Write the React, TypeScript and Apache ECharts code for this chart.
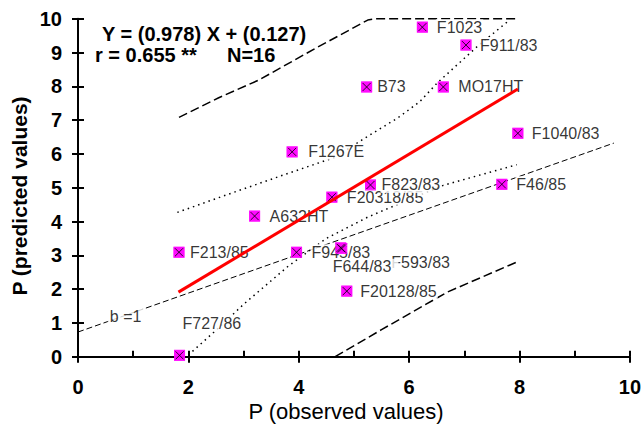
import React, { useEffect, useRef } from "react";
import * as echarts from "echarts";

// ---- data ----
const pointNames = [
  "F1023", "F911/83", "B73", "MO17HT", "F1267E", "F1040/83", "F20318/85", "F823/83",
  "A632HT", "F46/85", "F213/85", "F945/83", "F593/83", "F644/83", "F20128/85", "F727/86",
];
const observedValues = [6.24, 7.03, 5.23, 6.62, 3.88, 7.97, 4.6, 5.3, 3.2, 7.68, 1.83, 3.96, 4.78, 4.76, 4.87, 1.84];
const predictedValues = [9.75, 9.22, 7.98, 7.98, 6.06, 6.61, 4.72, 5.08, 4.16, 5.1, 3.09, 3.09, 3.2, 3.22, 1.94, 0.04];

// regression line Y = 0.978 X + 0.127 (end points)
const regressionLine = [[1.82, 1.91], [7.97, 7.92]];
// prediction band (long dashes)
const upperPrediction = [[1.83, 7.08], [2.55, 7.66], [3.27, 8.18], [4.3, 9.12], [5.25, 9.96], [5.4, 10], [7.95, 10]];
const lowerPrediction = [[4.66, 0], [5.5, 0.8], [6.69, 1.91], [7.95, 2.8]];
// confidence band (dotted)
const upperConfidence = [[1.8, 4.27], [2.8, 4.85], [3.8, 5.42], [4.66, 5.9], [5.2, 6.47], [5.79, 7.06], [6.19, 7.54], [6.51, 8.1], [7.23, 9.17], [7.82, 9.96]];
const lowerConfidence = [[2.0, 0.05], [2.5, 0.78], [3.0, 1.55], [3.81, 2.68], [4.5, 3.5], [5.25, 4.13], [6.0, 4.65], [6.62, 5.07], [7.95, 5.68]];
// b = 1 line
const bOneLine = [[0, 0.73], [9.71, 6.32]];
const bOneLabelPoint = [0.54, 1.2];

const xTicks = [0, 2, 4, 6, 8, 10];
const yTicks = [0, 1, 2, 3, 4, 5, 6, 7, 8, 9, 10];

const titleLine1 = "Y = (0.978) X + (0.127)";
const titleLine2a = "r = 0.655 **";
const titleLine2b = "N=16";
const xName = "P (observed values)";
const yName = "P (predicted values)";

// label placement (style): text-left offset from marker centre, vertical offset, right padding
const labelDx = [14.5, 14, 10.5, 15, 16, 14, 15, 11, 15, 14.5, 11, 15, 49.5, -8, 13.5, 3];
const labelDy = [0, 0, 0, 0, 0, 0, 0, 0, 0, 0, 0, 0, 14, 19, 0, -32];
const labelPadRight = [1, 1, 1, 1, 1, 1, 1, 1, 1, 1, 1, 1, 1, 7, 1, 1];

const FONT = "'Liberation Sans', Arial, Helvetica, sans-serif";

export default function App() {
  const ref = useRef<HTMLDivElement>(null);

  useEffect(() => {
    if (!ref.current) return;
    const chart = echarts.init(ref.current, undefined, { renderer: "svg" });
    const half = 5.5;
    const pad = 1;
    const points = pointNames.map((n, i) => ({
      name: n,
      value: [observedValues[i], predictedValues[i]],
      label: {
        offset: [labelDx[i] - half - pad, labelDy[i]],
        padding: [0, labelPadRight[i], 0, pad],
      },
    }));
    const plain = pointNames.map((n, i) => ({ name: n, value: [observedValues[i], predictedValues[i]] }));

    const axisCommon = {
      type: "value" as const,
      min: 0,
      max: 10,
      splitLine: { show: false },
    };

    chart.setOption({
      animation: false,
      backgroundColor: "#ffffff",
      grid: { left: 78, right: 10, top: 18.7, bottom: 69.3, containLabel: false },
      xAxis: [
        {
          ...axisCommon,
          interval: 2,
          position: "bottom",
          axisLine: { show: true, lineStyle: { color: "#000", width: 2 } },
          axisTick: { show: true, inside: false, length: 6, lineStyle: { color: "#000", width: 2 } },
          axisLabel: {
            show: true,
            margin: 20,
            color: "#000",
            fontWeight: "bold",
            fontSize: 20,
            fontFamily: FONT,
            formatter: (v: number) => (xTicks.includes(v) ? String(v) : ""),
          },
        },
        {
          ...axisCommon,
          interval: 1,
          position: "bottom",
          axisLine: { show: false },
          axisTick: { show: true, inside: true, length: 6, lineStyle: { color: "#000", width: 2 } },
          axisLabel: { show: false },
        },
      ],
      yAxis: [
        {
          ...axisCommon,
          interval: 1,
          position: "left",
          axisLine: { show: true, lineStyle: { color: "#000", width: 2 } },
          axisTick: { show: true, inside: false, length: 6, lineStyle: { color: "#000", width: 2 } },
          axisLabel: {
            show: true,
            margin: 16,
            color: "#000",
            fontWeight: "bold",
            fontSize: 20,
            fontFamily: FONT,
            formatter: (v: number) => (yTicks.includes(v) ? String(v) : ""),
          },
        },
        {
          ...axisCommon,
          interval: 1,
          position: "left",
          axisLine: { show: false },
          axisTick: { show: true, inside: true, length: 6, lineStyle: { color: "#000", width: 2 } },
          axisLabel: { show: false },
        },
      ],
      series: [
        {
          type: "line", z: 1, data: upperPrediction, showSymbol: false, silent: true,
          lineStyle: { color: "#000", width: 1.5, type: [9, 4] },
        },
        {
          type: "line", z: 1, data: lowerPrediction, showSymbol: false, silent: true,
          lineStyle: { color: "#000", width: 1.5, type: [9, 4] },
        },
        {
          type: "line", z: 1, data: upperConfidence, showSymbol: false, silent: true,
          lineStyle: { color: "#000", width: 1.5, type: [1.5, 4] },
        },
        {
          type: "line", z: 1, data: lowerConfidence, showSymbol: false, silent: true,
          lineStyle: { color: "#000", width: 1.5, type: [1.5, 4] },
        },
        {
          type: "line", z: 1, data: bOneLine, showSymbol: false, silent: true,
          lineStyle: { color: "#000", width: 1, type: [6, 3] },
        },
        {
          type: "scatter", z: 3, silent: true,
          data: [{ name: "b =1", value: bOneLabelPoint }],
          symbolSize: 0,
          label: {
            show: true, position: "right", distance: 0, formatter: "b =1",
            color: "#000", fontSize: 16, fontFamily: FONT,
            backgroundColor: "#fff", padding: [0, 2],
          },
        },
        {
          type: "scatter", z: 3, silent: true,
          data: points,
          symbol: "rect", symbolSize: 11,
          itemStyle: { color: "#ff00ff" },
          label: {
            show: true, position: "right", distance: 0,
            formatter: "{b}", color: "#000", fontSize: 16, fontFamily: FONT,
            backgroundColor: "#fff", padding: [0, pad],
          },
        },
        {
          type: "scatter", z: 4, silent: true,
          data: plain,
          symbol: "rect", symbolSize: 11,
          itemStyle: { color: "#ff00ff" },
        },
        {
          type: "scatter", z: 4, silent: true,
          data: plain,
          symbol: "path://M0 0L10 10M10 0L0 10",
          symbolSize: 8,
          itemStyle: { color: "none", borderColor: "#000", borderWidth: 1 },
        },
        {
          type: "line", z: 5, data: regressionLine, showSymbol: false, silent: true,
          lineStyle: { color: "#ff0000", width: 3 },
        },
      ],
      graphic: [
        {
          type: "text", left: 102, top: 24, silent: true,
          style: { text: titleLine1, fill: "#000", font: `bold 20px ${FONT}` },
        },
        {
          type: "text", left: 95, top: 45, silent: true,
          style: { text: titleLine2a, fill: "#000", font: `bold 20px ${FONT}` },
        },
        {
          type: "text", left: 227, top: 45, silent: true,
          style: { text: titleLine2b, fill: "#000", font: `bold 20px ${FONT}` },
        },
        {
          type: "text", x: 346, y: 411, silent: true,
          style: { text: xName, fill: "#000", font: `22px ${FONT}`, align: "center", verticalAlign: "middle" },
        },
        {
          type: "text", x: 19, y: 196, rotation: Math.PI / 2, silent: true,
          style: { text: yName, fill: "#000", font: `bold 21px ${FONT}`, align: "center", verticalAlign: "middle" },
        },
      ],
    });
    return () => chart.dispose();
  }, []);

  return (
    <div
      ref={ref}
      style={{ position: "fixed", left: 0, top: 0, width: 644, height: 426, background: "#fff" }}
    />
  );
}
